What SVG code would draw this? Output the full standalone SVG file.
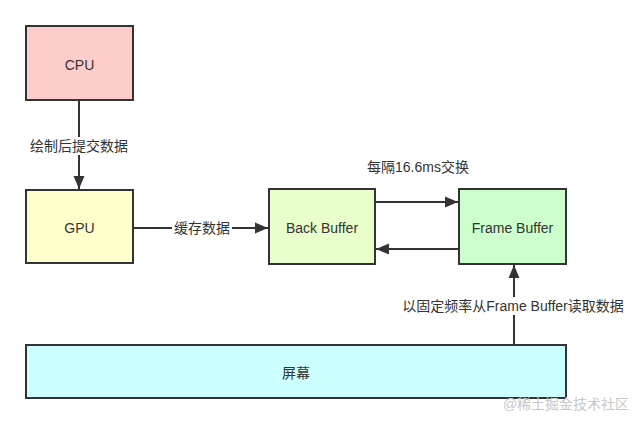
<svg xmlns="http://www.w3.org/2000/svg" width="640" height="425" viewBox="0 0 640 425">
<defs>
<style>
.box{stroke:#333;stroke-width:2}
.t{font-family:"Liberation Sans","Noto Sans CJK SC",sans-serif;font-size:14px;fill:#333;text-anchor:middle;dominant-baseline:central}
.c{stroke:#333;stroke-width:2;fill:none;marker-end:url(#ah)}
.lbl{fill:#fff}
</style>
<marker id="ah" markerWidth="14" markerHeight="12" refX="13" refY="6" orient="auto" markerUnits="userSpaceOnUse"><path d="M0,0.5 L13,6 L0,11.5 z" fill="#333"/></marker>
</defs>
<rect width="640" height="425" fill="#fff"/>
<g id="connectors">
<path class="c" d="M79,100 V189"/>
<rect class="lbl" x="28" y="137" width="102" height="18"/>
<text class="t" x="79" y="146">绘制后提交数据</text>
<path class="c" d="M133,228 H268"/>
<rect class="lbl" x="172" y="219" width="60" height="18"/>
<text class="t" x="202" y="228">缓存数据</text>
<path class="c" d="M375,202 H458"/>
<path class="c" d="M459,249 H376"/>
<text class="t" x="418" y="167">每隔16.6ms交换</text>
<path class="c" d="M514,345 V265"/>
<rect class="lbl" x="400" y="297" width="226" height="18"/>
<text class="t" x="513" y="306">以固定频率从Frame Buffer读取数据</text>
</g>
<g id="cpu"><rect class="box" x="26" y="26" width="107" height="74" fill="#ffcccc"/><text class="t" x="79.5" y="65">CPU</text></g>
<g id="gpu"><rect class="box" x="26" y="190" width="107" height="73" fill="#ffffcc"/><text class="t" x="79.5" y="228">GPU</text></g>
<g id="back"><rect class="box" x="269" y="189" width="106" height="75" fill="#e8ffcc"/><text class="t" x="322" y="228">Back Buffer</text></g>
<g id="frame"><rect class="box" x="459" y="189" width="107" height="75" fill="#ccffcc"/><text class="t" x="512.5" y="228">Frame Buffer</text></g>
<g id="screen"><rect class="box" x="26" y="345" width="540" height="53" fill="#ccffff"/><text class="t" x="296" y="373">屏幕</text></g>
<text x="566" y="404" font-family="Liberation Sans,Noto Sans CJK SC,sans-serif" font-size="14" fill="#c8c8c8" text-anchor="middle" dominant-baseline="central">@稀土掘金技术社区</text>
</svg>
